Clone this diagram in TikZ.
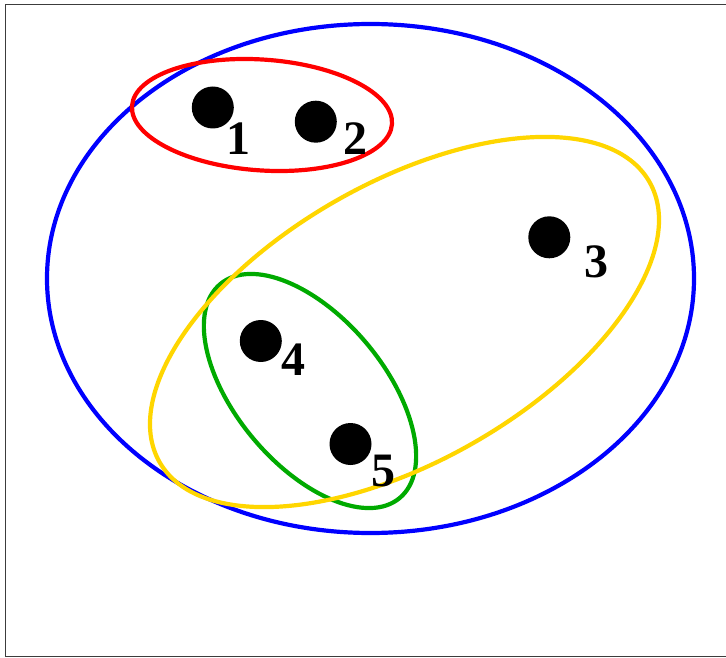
\documentclass[tikz,border=0pt]{standalone}
\usepackage{fontspec}
\setmainfont{Liberation Serif}
\begin{document}
\begin{tikzpicture}[x=1pt,y=-1pt,
  dot/.style={circle,fill=black,draw=none,minimum size=42pt,inner sep=0pt},
  lbl/.style={anchor=base,inner sep=0pt,font=\fontsize{48}{48}\selectfont\bfseries},
  ring/.style={line width=4.2pt}]
\definecolor{myblue}{RGB}{0,0,255}
\definecolor{myred}{RGB}{255,0,0}
\definecolor{mygold}{RGB}{255,214,0}
\definecolor{mygreen}{RGB}{0,170,0}
\definecolor{frame}{RGB}{60,60,60}
\useasboundingbox (0,0) rectangle (726,658);
\clip (0,0) rectangle (726,658);
\fill[white] (0,0) rectangle (726,658);
\draw[frame,line width=1.3pt] (5.5,4.5) rectangle (740,656.5);
% hyperedges
\draw[ring,myblue] (370.5,278.5) ellipse [x radius=323.5pt, y radius=254.5pt];
\draw[ring,myred,shift={(262,115)},rotate=-4] (0,0) ellipse [x radius=130.3pt, y radius=55.4pt];
\draw[ring,mygreen,shift={(310,391)},rotate=-50] (0,0) ellipse [x radius=139.6pt, y radius=74pt];
\draw[ring,mygold,shift={(404.5,322)},rotate=29.8] (0,0) ellipse [x radius=282.2pt, y radius=139.2pt];
% vertices
\node[dot] (d1) at (212.8,107.5) {};
\node[dot] (d2) at (315.8,121.7) {};
\node[dot] (d3) at (549.3,237.3) {};
\node[dot] (d4) at (260.8,341) {};
\node[dot] (d5) at (350.5,444) {};
% labels
\node[lbl] (l1) at (238.3,155) {1};
\node[lbl] (l2) at (355.3,155) {2};
\node[lbl] (l3) at (596.7,277.3) {3};
\node[lbl] (l4) at (293.3,375.7) {4};
\node[lbl] (l5) at (383,486.7) {5};
\end{tikzpicture}
\end{document}
